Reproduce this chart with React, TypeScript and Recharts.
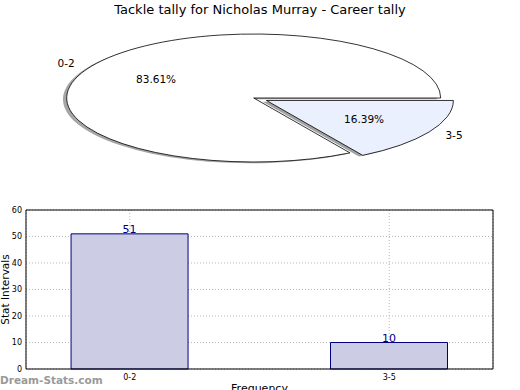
import React from "react";
import {
  PieChart,
  Pie,
  BarChart,
  Bar,
  XAxis,
  YAxis,
  CartesianGrid,
  LabelList,
  ReferenceLine,
} from "recharts";

const categories = ["0-2", "3-5"];
const tallies = [51, 10];
const sliceColors = ["#ffffff", "#eaf0fd"];
const shadowColors = ["#4d4d4d", "#46484c"];
const explode = [0, 0.078];
const yTicks = [0, 10, 20, 30, 40, 50, 60];

const pieData = categories.map((name, i) => ({ name, value: tallies[i] }));
const barData = categories.map((name, i) => ({ name, pos: i, value: tallies[i] }));

const FONT = "'DejaVu Sans', sans-serif";
const SQUASH = 64 / 187;
const RAD = Math.PI / 180;

function pt(cx: number, cy: number, rx: number, ry: number, deg: number) {
  return [cx + rx * Math.cos(deg * RAD), cy - ry * Math.sin(deg * RAD)];
}

function wedgePath(cx: number, cy: number, rx: number, ry: number, a0: number, a1: number) {
  const [x0, y0] = pt(cx, cy, rx, ry, a0);
  const [x1, y1] = pt(cx, cy, rx, ry, a1);
  const large = Math.abs(a1 - a0) > 180 ? 1 : 0;
  return `M${cx},${cy} L${x0},${y0} A${rx},${ry} 0 ${large} 0 ${x1},${y1} Z`;
}

// pie is squashed into an ellipse, so each wedge (with its shadow) is drawn here
function renderWedge(props: any) {
  const { cx, cy, outerRadius, startAngle, endAngle, midAngle, percent, index } = props;
  const rx = outerRadius;
  const ry = outerRadius * SQUASH;
  const ex = explode[index] || 0;
  const ox = cx + ex * rx * Math.cos(midAngle * RAD);
  const oy = cy - ex * ry * Math.sin(midAngle * RAD);
  const [lx, ly] = pt(ox, oy, rx * 1.1, ry * 1.1, midAngle);
  const [px, py] = pt(ox, oy, rx * 0.6, ry * 0.6, midAngle);
  return (
    <g>
      <path
        d={wedgePath(ox - 0.02 * rx, oy + 0.02 * ry, rx, ry, startAngle, endAngle)}
        fill={shadowColors[index]}
        fillOpacity={0.5}
        stroke="none"
      />
      <path
        d={wedgePath(ox, oy, rx, ry, startAngle, endAngle)}
        fill={sliceColors[index]}
        stroke="#000"
        strokeWidth={0.8}
      />
      <text
        x={lx}
        y={ly}
        textAnchor={Math.cos(midAngle * RAD) >= 0 ? "start" : "end"}
        dominantBaseline="central"
        fontSize={10.5}
        fontFamily={FONT}
        fill="#000"
      >
        {categories[index]}
      </text>
      <text
        x={px}
        y={py}
        textAnchor="middle"
        dominantBaseline="central"
        fontSize={10.5}
        fontFamily={FONT}
        fill="#000"
      >
        {(percent * 100).toFixed(2) + "%"}
      </text>
    </g>
  );
}

export default function App() {
  return (
    <div
      style={{
        position: "absolute",
        left: 0,
        top: 0,
        width: 520,
        height: 390,
        background: "#fff",
        overflow: "hidden",
        fontFamily: FONT,
      }}
    >
      <div
        style={{
          position: "absolute",
          top: 3,
          left: 0,
          width: 520,
          textAlign: "center",
          fontSize: 13,
          lineHeight: "14px",
          color: "#000",
        }}
      >
        Tackle tally for Nicholas Murray - Career tally
      </div>

      <div style={{ position: "absolute", left: 0, top: 0 }}>
        <PieChart width={520} height={185} margin={{ top: 0, right: 0, bottom: 0, left: 0 }}>
          <Pie
            data={pieData}
            dataKey="value"
            nameKey="name"
            cx={253.7}
            cy={98}
            outerRadius={187}
            startAngle={0}
            endAngle={360}
            fill="none"
            stroke="none"
            label={renderWedge}
            labelLine={false}
            isAnimationActive={false}
          />
        </PieChart>
      </div>

      <div style={{ position: "absolute", left: 0, top: 195 }}>
        <BarChart
          width={520}
          height={195}
          data={barData}
          margin={{ top: 15, right: 27, bottom: 0, left: 0 }}
        >
          <XAxis
            dataKey="pos"
            type="number"
            domain={[-0.4, 1.4]}
            ticks={[0, 1]}
            tickFormatter={(v: number) => categories[v]}
            allowDataOverflow
            height={21}
            axisLine={{ stroke: "#000" }}
            tickLine={false}
            tickSize={0}
            tickMargin={5}
            tick={{ fontSize: 8, fill: "#000", fontFamily: FONT }}
            label={{
              value: "Frequency",
              position: "insideBottom",
              offset: -2,
              fontSize: 11,
              fill: "#000",
              fontFamily: FONT,
            }}
          />
          <YAxis
            domain={[0, 60]}
            ticks={yTicks}
            width={26}
            axisLine={{ stroke: "#000" }}
            tickLine={false}
            tickSize={0}
            tickMargin={4}
            tick={{ fontSize: 8, fill: "#000", fontFamily: FONT }}
            label={({ viewBox }: any) => (
              <text
                x={viewBox.x + 5}
                y={viewBox.y + viewBox.height / 2}
                transform={`rotate(-90, ${viewBox.x + 5}, ${viewBox.y + viewBox.height / 2})`}
                textAnchor="middle"
                dominantBaseline="central"
                fontSize={10.5}
                fontFamily={FONT}
                fill="#000"
              >
                Stat Intervals
              </text>
            )}
          />
          <Bar
            dataKey="value"
            barSize={117}
            fill="#ccccE5"
            stroke="#000080"
            strokeWidth={1}
            isAnimationActive={false}
          >
            <LabelList
              dataKey="value"
              position="top"
              offset={1}
              fill="#000080"
              fontSize={11}
              fontFamily={FONT}
            />
          </Bar>
          <CartesianGrid stroke="#b8b8b8" strokeDasharray="1 2" />
          <ReferenceLine y={60} stroke="#000" strokeWidth={1} />
          <ReferenceLine x={1.4} stroke="#000" strokeWidth={1} />
        </BarChart>
      </div>

      <div
        style={{
          position: "absolute",
          left: 0,
          top: 373,
          fontSize: 10.5,
          lineHeight: "14px",
          color: "#9a9a9a",
          fontWeight: "bold",
        }}
      >
        Dream-Stats.com
      </div>
    </div>
  );
}
